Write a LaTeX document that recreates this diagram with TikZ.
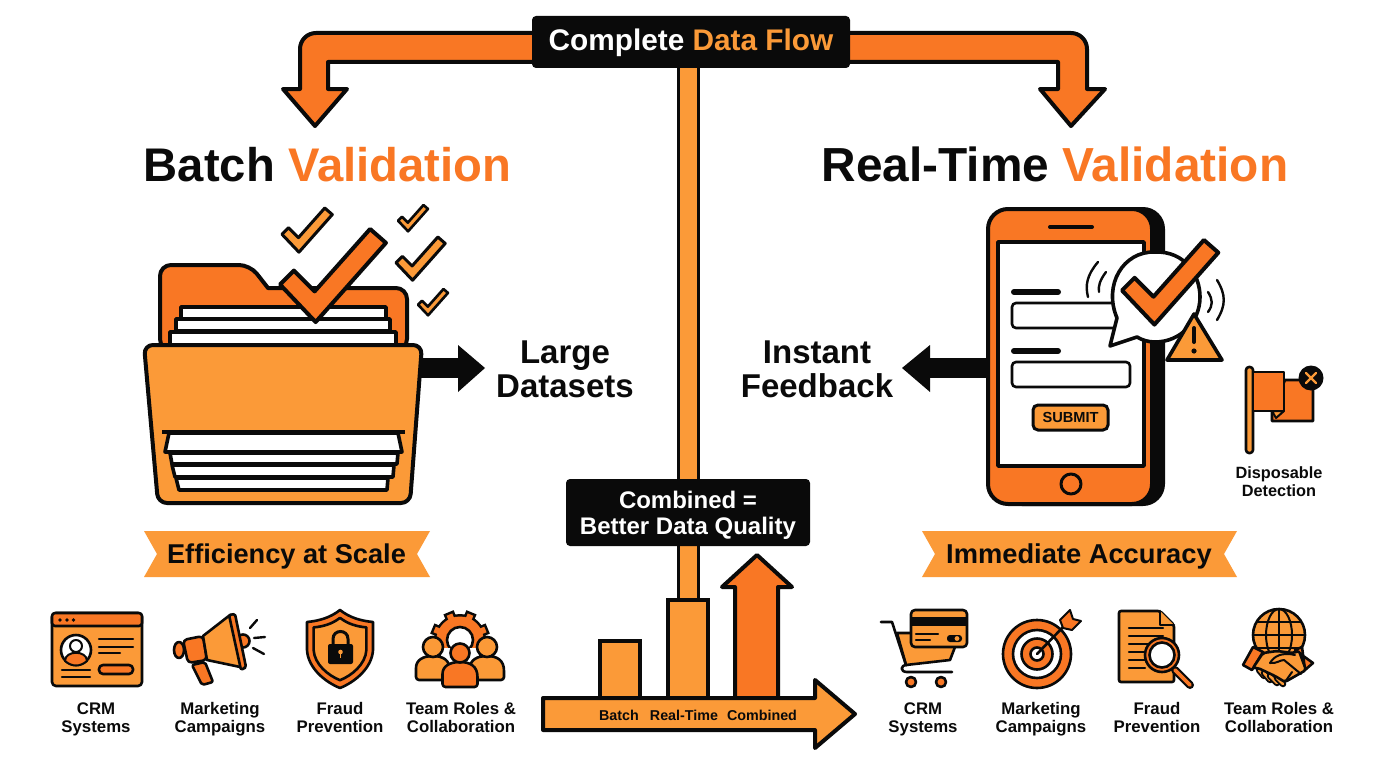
\documentclass[tikz,border=0pt]{standalone}
\usepackage{fontspec}
\setmainfont{Liberation Sans}
\usetikzlibrary{backgrounds,calc}
\definecolor{ink}{HTML}{0A0A0A}
\definecolor{dk}{HTML}{F97724}
\definecolor{lt}{HTML}{FB9A38}
\newcommand{\fs}[2]{\fontsize{#1}{#2}\selectfont}
\newcommand{\chk}[5]{\draw[fill=#4,draw=ink,line width=#5pt,line join=round,shift={(#1,#2)},scale=#3] (0,56)--(14,42)--(35,63)--(91,0)--(107,14)--(36,94)--cycle;}
\newcommand{\person}[6]{\draw[ic,fill=#6,rounded corners=3pt] (#1-#4,#3) -- (#1-#4,#2+24) [sharp corners] .. controls (#1-#4,#2+13) and (#1-10,#2+9) .. (#1,#2+9) .. controls (#1+10,#2+9) and (#1+#4,#2+13) .. (#1+#4,#2+24) [rounded corners=3pt] -- (#1+#4,#3) -- cycle;
 \draw[ic,fill=#6] (#1,#2) circle (#5);}
\newcommand{\finger}[4]{\draw[ink,line width=6.5pt,line cap=round] (#1,#2) -- (#3,#4); \draw[lt,line width=2.6pt,line cap=round] (#1,#2) -- (#3,#4);}
\tikzset{
 ic/.style={draw=ink,line width=2.6pt,line join=round,line cap=round},
 th/.style={draw=ink,line width=3.6pt,line join=round},
 big/.style={draw=ink,line width=4pt,line join=round},
 tick/.style={draw=ink,line width=2.4pt,line cap=round},
 lab/.style={font=\bfseries\fs{16.8}{18},text=ink,align=center,inner sep=0pt,anchor=north,execute at begin node={\rule{0pt}{13pt}}},
 mid/.style={font=\bfseries\fs{33}{34},text=ink,align=center,inner sep=0pt},
 plate/.style={fill=ink,draw=none,rounded corners=4pt,inner sep=0pt},
 platetext/.style={inner sep=0pt,align=center,text=white},
 barbox/.style={draw=ink,line width=4pt,fill=lt,inner sep=0pt},
 ribbon/.style={fill=lt,draw=none},
 axislab/.style={font=\bfseries\fs{14.3}{16},text=ink,inner sep=0pt}
}
\begin{document}
\begin{tikzpicture}[x=1pt,y=-1pt]
\begin{pgfonlayer}{background}
\fill[white] (0,0) rectangle (1376,768);
\end{pgfonlayer}
\useasboundingbox (0,0) rectangle (1376,768);

% ---- top arrows
\draw[big,fill=dk] (545,33) -- (316,33) to[out=180,in=90] (300,49) -- (300,89) -- (283,89) -- (315,126) -- (347,89) -- (328,89) -- (328,62) -- (545,62) -- cycle;
\draw[big,fill=dk] (840,33) -- (1071,33) to[out=0,in=90] (1087,49) -- (1087,89) -- (1105,89) -- (1071,126) -- (1040,89) -- (1058,89) -- (1058,62) -- (840,62) -- cycle;
\node[plate,minimum width=318pt,minimum height=52pt] (flow) at (691,42) {};
\node[platetext,anchor=base,font=\bfseries\fs{29.8}{32}] (flowtxt) at (691,50.5) {Complete \textcolor{lt}{Data Flow}};

% ---- titles
\node[inner sep=0pt,font=\bfseries\fs{47.2}{50},text=ink,anchor=base] (titleL) at (327.5,181) {Batch \textcolor{dk}{Validation}};
\node[inner sep=0pt,font=\bfseries\fs{47.8}{50},text=ink,anchor=base] (titleR) at (1055,181) {Real-Time \textcolor{dk}{Validation}};

% ---- folder
\fill[ink] (415,358) rectangle (458,378);
\fill[ink] (458,345) -- (485,368) -- (458,392) -- cycle;
\draw[big,fill=dk,rounded corners=11pt] (160,350) -- (160,265) -- (250,265) [sharp corners] -- (268,288) [rounded corners=11pt] -- (407,288) -- (407,350) -- cycle;
\draw[th,fill=white] (181,307) rectangle (386,319);
\draw[th,fill=white] (176,319) rectangle (390,331);
\draw[th,fill=white] (170,332) rectangle (396,346);
\draw[big,fill=lt,rounded corners=9pt] (144,345) -- (422,345) -- (410,503) -- (158,503) -- cycle;
\draw[th,fill=white] (176,478) -- (388,478) -- (387,490) -- (179,490) -- cycle;
\draw[th,fill=white] (172,465) -- (394,465) -- (393,477) -- (175,477) -- cycle;
\draw[th,fill=white] (170,453) -- (398,453) -- (397,464) -- (172,464) -- cycle;
\draw[th,fill=white] (169,433) -- (398,433) -- (402,452) -- (165,452) -- cycle;
\draw[draw=ink,line width=3.6pt] (162,432) -- (405,432);
\chk{280}{229}{.99}{dk}{4}
\chk{282}{208}{.47}{lt}{3}
\chk{398}{205}{.28}{lt}{2.6}
\chk{396}{237}{.46}{lt}{3}
\chk{418}{289}{.28}{lt}{2.6}
\node[mid] (large) at (565,369) {Large\\Datasets};

% ---- centre chart
\node[barbox,minimum width=40pt,minimum height=57pt] (barB) at (620,669) {};
\node[barbox,minimum width=40pt,minimum height=99pt] (barR) at (688,649) {};
\draw[big,fill=dk] (735,700) -- (735,587) -- (722,587) -- (757,555) -- (792,587) -- (778,587) -- (778,700) -- cycle;
\draw[big,fill=lt] (543,698) -- (815,698) -- (815,680) -- (855,714) -- (815,748) -- (815,730) -- (543,730) -- cycle;
\node[axislab] (lbB) at (619,715) {Batch};
\node[axislab] (lbR) at (684,715) {Real-Time};
\node[axislab] (lbC) at (762,715) {Combined};
\node[plate,minimum width=244pt,minimum height=67pt] (comb) at (688,512.5) {};
\node[platetext,font=\bfseries\fs{24}{26}] (combtxt) at (688,515) {Combined =\\Better Data Quality};
\begin{pgfonlayer}{background}
\draw[ink,line width=23pt] (flow.south -| barR.north) -- (barR.north);
\draw[lt,line width=17pt] (flow.south -| barR.north) -- (barR.north);
\end{pgfonlayer}

% ---- ribbons
\fill[ribbon] (144,531) -- (430,531) -- (417,554) -- (430,577) -- (144,577) -- (157,554) -- cycle;
\node[inner sep=0pt,font=\bfseries\fs{27.2}{30},text=ink] (effic) at (286.5,556) {Efficiency at Scale};
\fill[ribbon] (922,531) -- (1237,531) -- (1224,554) -- (1237,577) -- (922,577) -- (935,554) -- cycle;
\node[inner sep=0pt,font=\bfseries\fs{27.3}{30},text=ink] (immed) at (1079,556) {Immediate Accuracy};

% ---- phone
\fill[ink] (930,358) rectangle (990,378);
\fill[ink] (930,345) -- (902,368) -- (930,392) -- cycle;
\fill[ink,rounded corners=22pt] (1000,207) rectangle (1165,506);
\draw[big,fill=dk,rounded corners=20pt] (988,209) rectangle (1152,504);
\draw[th,fill=white] (998,242) rectangle (1144,466);
\draw[draw=ink,line width=4pt,line cap=round] (1050,227) -- (1092,227);
\draw[th,fill=dk,line width=3pt] (1071,484) circle (10);
\draw[draw=ink,line width=6pt,line cap=round] (1014,292) -- (1058,292);
\draw[draw=ink,line width=2.6pt,fill=white,rounded corners=4pt] (1012,303) rectangle (1130,328);
\draw[draw=ink,line width=6pt,line cap=round] (1014,351) -- (1058,351);
\draw[draw=ink,line width=2.6pt,fill=white,rounded corners=4pt] (1012,362) rectangle (1130,387);
\node[draw=ink,line width=3pt,fill=lt,rounded corners=5pt,minimum width=75pt,minimum height=25pt,inner sep=0pt,font=\bfseries\fs{14.6}{16},text=ink] (submit) at (1070.5,417.5) {SUBMIT};
\draw[th,fill=white] (1117,318) .. controls (1103,285) and (1123,251) .. (1155,252) .. controls (1185,251) and (1200,275) .. (1200,297) .. controls (1200,322) and (1180,342) .. (1155,342) .. controls (1148,342) and (1142,340) .. (1137,337) -- (1110,346) -- cycle;
\chk{1122}{240}{.9}{dk}{4}
\draw[tick] (1098,262) .. controls (1087,275) and (1085,285) .. (1088,297);
\draw[tick] (1106,272) .. controls (1100,280) and (1098,286) .. (1099,292);
\draw[tick] (1217,280) .. controls (1226,295) and (1226,305) .. (1217,320);
\draw[tick] (1208,292) .. controls (1213,300) and (1213,305) .. (1208,312);
\draw[th,fill=lt] (1194,314) -- (1222,360) -- (1167,360) -- cycle;
\draw[draw=ink,line width=4pt,line cap=round] (1194,328) -- (1194,342);
\fill[ink] (1194,351) circle (2.6);
\node[mid] (instant) at (817,369) {Instant\\Feedback};

% ---- flag
\draw[ic,fill=lt,rounded corners=3pt] (1246,367) rectangle (1253,453);
\draw[ic,fill=dk] (1272,411) -- (1285,380) -- (1313,380) -- (1313,421) -- (1272,421) -- cycle;
\draw[ic,fill=dk] (1253,372) -- (1284,372) -- (1284,411) -- (1253,411) -- cycle;
\draw[ic,fill=lt,line width=2pt] (1272,411) -- (1284,411) -- (1276,418) -- cycle;
\fill[ink] (1311,378) circle (12.5);
\draw[lt,line width=2.4pt,line cap=round] (1306,373) -- (1316,383) (1316,373) -- (1306,383);
\node[lab,font=\bfseries\fs{16.3}{18}] (disp) at (1279,466.5) {Disposable\\Detection};

% ---- left icons: CRM
\draw[ic,fill=lt,rounded corners=4pt] (52,613) rectangle (142,686);
\draw[ic,fill=dk,rounded corners=3pt] (52,613) rectangle (142,626);
\fill[ink] (60,620) circle (1.9) (67,620) circle (1.9) (73.5,620) circle (1.9);
\draw[ic,fill=white] (76,650) circle (15);
\draw[ic,fill=dk,line width=2pt] (65,661) .. controls (65,650) and (87,650) .. (87,661) .. controls (80,667) and (72,667) .. (65,661) -- cycle;
\draw[ic,fill=white,line width=2pt] (76,646) circle (6);
\draw[tick] (99,639) -- (133,639) (99,647) -- (133,647) (99,653) -- (120,653) (62,670) -- (90,670) (62,677) -- (90,677);
\draw[ic,fill=dk,rounded corners=4pt] (99,665) rectangle (133,674);
% megaphone
\draw[ic,fill=dk] (243,641) circle (6.5);
\draw[ic,fill=dk,rounded corners=2pt] (192,665) -- (205,662) -- (213,682) -- (202,685) -- cycle;
\draw[ic,fill=dk] (179,650) ellipse (5 and 8);
\draw[ic,fill=dk,rounded corners=4pt] (183,640) -- (203,636) -- (207,660) -- (188,663) -- cycle;
\draw[ic,fill=lt] (203,636) -- (230,615) -- (245,668) -- (207,660) -- cycle;
\draw[ic,fill=dk,rounded corners=1.5pt] (229,615) -- (235,614) -- (246,667) -- (241,670) -- cycle;
\draw[tick] (250,628) -- (257,620) (254,638) -- (265,637) (253,648) -- (264,654);
% shield
\draw[ic,fill=dk] (340,610) .. controls (350,618) and (362,621) .. (373,622) -- (373,650) .. controls (372,668) and (355,682) .. (340,688) .. controls (325,682) and (308,668) .. (307,650) -- (307,622) .. controls (318,621) and (330,618) .. (340,610) -- cycle;
\begin{scope}[shift={(340,649)},scale=.8,shift={(-340,-649)}]
\draw[ic,fill=lt] (340,610) .. controls (350,618) and (362,621) .. (373,622) -- (373,650) .. controls (372,668) and (355,682) .. (340,688) .. controls (325,682) and (308,668) .. (307,650) -- (307,622) .. controls (318,621) and (330,618) .. (340,610) -- cycle;
\end{scope}
\draw[draw=ink,line width=3pt] (333,645) -- (333,639) .. controls (333,629) and (348,629) .. (348,639) -- (348,645);
\fill[ink,rounded corners=2pt] (328,644) rectangle (353,664);
\fill[lt] (340.5,652) circle (2.3);
\draw[lt,line width=1.8pt] (340.5,652) -- (340.5,658);
% team
\foreach \a in {0,45,...,315}{\draw[ink,line width=11pt] (460,640) -- ($(460,640)+(\a+22.5:30)$);}
\fill[ink] (460,640) circle (26);
\foreach \a in {0,45,...,315}{\draw[dk,line width=6pt] (460,640) -- ($(460,640)+(\a+22.5:27.5)$);}
\fill[dk] (460,640) circle (23.5);
\draw[ic,fill=white] (460,640) circle (13);
\fill[white] (441,648) rectangle (479,670);
\person{433}{647}{680}{17}{10}{lt}
\person{487}{647}{680}{17}{10}{lt}
\person{460}{653}{687}{17.5}{9.5}{dk}

% ---- right icons: cart
\draw[ic,fill=lt] (897,633) -- (950,633) -- (955,647) -- (950,660) -- (906,665) -- cycle;
\draw[ic] (881,622) -- (892,622) -- (906,665) (952,672) -- (907,672) .. controls (900,672) and (900,665) .. (907,665);
\draw[ic,fill=dk] (911,682) circle (5) (941,682) circle (5);
\draw[ic,fill=lt,rounded corners=4pt] (911,610) rectangle (967,647);
\fill[ink] (911,617) rectangle (967,626);
\draw[tick] (916,634) -- (938,634) (916,640) -- (930,640);
\fill[ink,rounded corners=3pt] (947,635) rectangle (962,642);
\fill[lt] (957,638.5) circle (2.4);
% target
\draw[ic,fill=dk] (1037,654) circle (34);
\draw[ic,fill=white] (1037,654) circle (24);
\draw[ic,fill=dk] (1037,654) circle (15.5);
\draw[ic,fill=white] (1037,654) circle (6.5);
\draw[ic] (1037,654) -- (1066,624);
\draw[ic,fill=dk,line width=2pt] (1060,620) -- (1070,610) -- (1073,619) -- (1081,621) -- (1072,630) -- (1063,628) -- cycle;
% doc
\draw[ic,fill=lt,rounded corners=2pt] (1119,611) -- (1160,611) -- (1174,625) -- (1174,682) -- (1119,682) -- cycle;
\draw[ic,fill=lt] (1160,611) -- (1160,625) -- (1174,625);
\draw[tick] (1129,628) -- (1163,628) (1129,636) -- (1163,636) (1129,644) -- (1152,644) (1129,652) -- (1145,652) (1129,660) -- (1145,660) (1129,668) -- (1145,668);
\draw[draw=ink,line width=8pt,line cap=round] (1175,670) -- (1190,685);
\draw[draw=dk,line width=3.6pt,line cap=round] (1175,670) -- (1190,685);
\draw[ic,fill=dk] (1162,655) circle (17);
\draw[ic,fill=white] (1162,655) circle (12.5);
% globe + handshake
\draw[ic,fill=lt] (1279,635) circle (26);
\draw[ic,line width=2pt] (1279,609) -- (1279,661) (1253,635) -- (1305,635) (1257,622) -- (1301,622) (1257,648) -- (1301,648);
\draw[ic,line width=2pt] (1279,635) ellipse (13 and 26);
\draw[ic,fill=dk] (1253,647) -- (1263,652) -- (1252,670) -- (1243,665) -- cycle;
\draw[ic,fill=dk] (1302,647) -- (1295,650) -- (1313,663) -- (1305,670) -- cycle;
\finger{1259}{670}{1264}{676}
\finger{1264}{673}{1270}{680}
\finger{1270}{676}{1277}{683}
\finger{1277}{678}{1283}{684}
\draw[ic,fill=lt,rounded corners=2pt] (1263,653) -- (1277,651) -- (1293,653) -- (1299,651) -- (1306,670) -- (1285,682) -- (1275,676) -- (1258,668) -- (1253,668) -- cycle;
\draw[ic,line width=2pt] (1270,663) .. controls (1274,656) and (1282,652) .. (1295,655);
\draw[ic,line width=2pt] (1270,663) .. controls (1276,664) and (1280,660) .. (1284,660) -- (1301,674);
\draw[ic,line width=2pt] (1285,682) -- (1292,672);

% ---- labels
\node[lab] (a1) at (96,702.5) {CRM\\Systems};
\node[lab] (a2) at (220,702.5) {Marketing\\Campaigns};
\node[lab] (a3) at (340,702.5) {Fraud\\Prevention};
\node[lab] (a4) at (461,702.5) {Team Roles \&\\Collaboration};
\node[lab] (b1) at (923,702.5) {CRM\\Systems};
\node[lab] (b2) at (1041,702.5) {Marketing\\Campaigns};
\node[lab] (b3) at (1157,702.5) {Fraud\\Prevention};
\node[lab] (b4) at (1279,702.5) {Team Roles \&\\Collaboration};
\end{tikzpicture}
\end{document}
